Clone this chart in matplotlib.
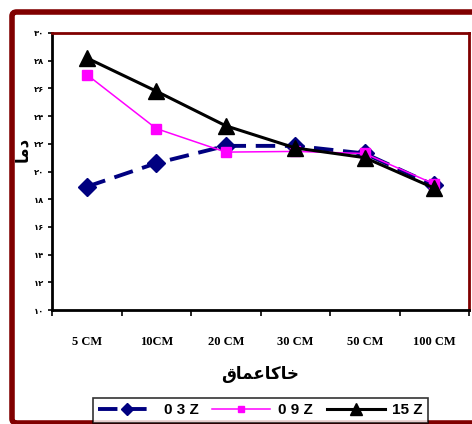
import matplotlib
matplotlib.use("Agg")
import matplotlib.pyplot as plt
from matplotlib.patches import FancyBboxPatch
from matplotlib.ticker import FuncFormatter
import numpy as np

# soil depths and temperatures for the three sampling times
depths = ['5 CM', '10CM', '20 CM', '30 CM', '50 CM', '100 CM']
temp_03z = [18.9, 20.6, 21.85, 21.85, 21.3, 19.0]
temp_09z = [27.0, 23.1, 21.4, 21.45, 21.3, 19.1]
temp_15z = [28.2, 25.8, 23.3, 21.7, 21.0, 18.8]
series_names = ['0 3 Z', '0 9 Z', '15 Z']

# Persian labels, written as presentation forms in visual order
xlabel_fa = '\ufed5\ufe8e\ufee4\ufecb\ufe8e\ufb90\ufe8e\ufea7'
ylabel_fa = '\ufe8e\ufee3\ufea9'
fa_digits = '۰۱۲۳۴۵۶۷۸۹'

dark_red = '#800000'


def to_fa(v, pos=None):
    return ''.join(fa_digits[int(c)] for c in str(int(round(v))))


fig = plt.figure(figsize=(4.72, 4.24), dpi=100)
ax = fig.add_axes([52 / 472, 1 - 310 / 424, 417 / 472, 277 / 424])

x = np.arange(len(depths))
ax.plot(x, temp_03z, color='#000080', lw=2.8, dashes=(5, 2.5),
        marker='D', ms=9, label=series_names[0])
ax.plot(x, temp_09z, color='#ff00ff', lw=1.1,
        marker='s', ms=7, label=series_names[1])
ax.plot(x, temp_15z, color='black', lw=2.2,
        marker='^', ms=12, label=series_names[2])

ax.set_xlim(-0.5, len(depths) - 0.5)
ax.set_ylim(10, 30)
ax.set_yticks(np.arange(10, 31, 2))
ax.yaxis.set_major_formatter(FuncFormatter(to_fa))
ax.set_xticks(np.arange(-0.5, len(depths), 1.0))
ax.set_xticklabels([])
ax.set_xticks(x, minor=True)
ax.set_xticklabels(depths, minor=True, family='Liberation Serif',
                   fontweight='bold', fontsize=9)
ax.tick_params(axis='x', which='minor', length=0, pad=19)
ax.tick_params(axis='x', which='major', length=4, width=1.2, direction='out')
ax.tick_params(axis='y', length=3, width=1.2, direction='out', labelsize=6, pad=3)
for lab in ax.get_yticklabels():
    lab.set_fontweight('bold')

for side in ['top', 'right']:
    ax.spines[side].set_color(dark_red)
    ax.spines[side].set_linewidth(2)
for side in ['left', 'bottom']:
    ax.spines[side].set_color('black')
    ax.spines[side].set_linewidth(2)

ax.set_xlabel(xlabel_fa, fontsize=12, fontweight='bold')
ax.xaxis.set_label_coords(0.5, -0.2)
ax.set_ylabel(ylabel_fa, fontsize=12, fontweight='bold')
ax.yaxis.set_label_coords(-0.05, 0.58)

# outer chart border
fig.patches.append(FancyBboxPatch((12 / 472, 1 / 424), 470 / 472, 411 / 424,
                                  boxstyle='round,pad=0,rounding_size=0.01',
                                  transform=fig.transFigure, fill=False,
                                  edgecolor=dark_red, lw=4, clip_on=False))

leg = fig.legend(loc='upper center', bbox_to_anchor=(0.552, 1 - 398 / 424), ncol=3,
                 frameon=True, fancybox=False, edgecolor='black',
                 prop={'family': 'Liberation Sans', 'weight': 'bold', 'size': 11},
                 markerscale=0.7, handlelength=3.8, columnspacing=0.9,
                 handletextpad=0.5, borderpad=0.35, borderaxespad=0)
leg.get_frame().set_linewidth(1.2)

fig.savefig('out.png', dpi=100)
